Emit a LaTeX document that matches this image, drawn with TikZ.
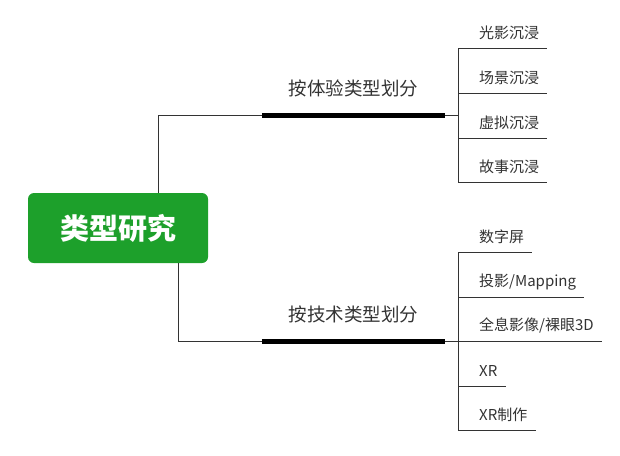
\documentclass[tikz,border=0pt]{standalone}
\usepackage{fontspec}
\setmainfont{Noto Sans CJK SC}
\usepackage{tikz}
\definecolor{leafgreen}{HTML}{1DA02B}
\definecolor{ink}{HTML}{333333}
\tikzstyle{root}=[rectangle, rounded corners=6pt, fill=leafgreen, text=white, font=\fontsize{29}{29}\selectfont\bfseries, minimum width=180pt, minimum height=70pt, inner sep=0pt]
\tikzstyle{branch}=[anchor=south, minimum width=183pt, minimum height=52pt, inner sep=0pt, text=ink, font=\fontsize{18.5}{18.5}\selectfont]
\tikzstyle{leaf}=[anchor=south west, minimum height=30pt, inner sep=0pt, text=ink, font=\fontsize{15}{15}\selectfont]
\tikzstyle{twig}=[draw=ink, line width=0.9pt]
\tikzstyle{bar}=[draw=black, line width=5pt]

\begin{document}
\begin{tikzpicture}[x=1pt, y=-1pt]
    \useasboundingbox (0,0) rectangle (620,455);

    \node[root] (root) at (118,228) {类型研究};

    \node[branch] (exp) at (353.5,115) {按体验类型划分};
    \node[branch] (tec) at (353.5,341) {按技术类型划分};
    \draw[bar] (exp.south west) -- (exp.south east);
    \draw[bar] (tec.south west) -- (tec.south east);

    \draw[twig] ([xshift=40pt]root.north) |- (exp.south west);
    \draw[twig] ([xshift=60pt]root.south) |- (tec.south west);

    \coordinate (exS) at ([xshift=13pt]exp.south east);
    \coordinate (tcS) at ([xshift=13pt]tec.south east);
    \draw[twig] (exp.south east) -- (exS);
    \draw[twig] (tec.south east) -- (tcS);

    \foreach \t/\y [count=\i] in {光影沉浸/48, 场景沉浸/93, 虚拟沉浸/138, 故事沉浸/182}{
      \node[leaf] (e\i) at (479,\y) {\t};
      \draw[twig] (e\i.south west -| exS) -- ([xshift=8pt]e\i.south east);
    }
    \draw[twig] (e1.south -| exS) -- (e4.south -| exS);

    \foreach \t/\y [count=\i] in {数字屏/252, {投影/Mapping}/297, {全息影像/裸眼3D}/341, XR/386, XR制作/430}{
      \node[leaf] (t\i) at (479,\y) {\t};
      \draw[twig] (t\i.south west -| tcS) -- ([xshift=8pt]t\i.south east);
    }
    \draw[twig] (t1.south -| tcS) -- (t5.south -| tcS);

  \end{tikzpicture}
\end{document}
